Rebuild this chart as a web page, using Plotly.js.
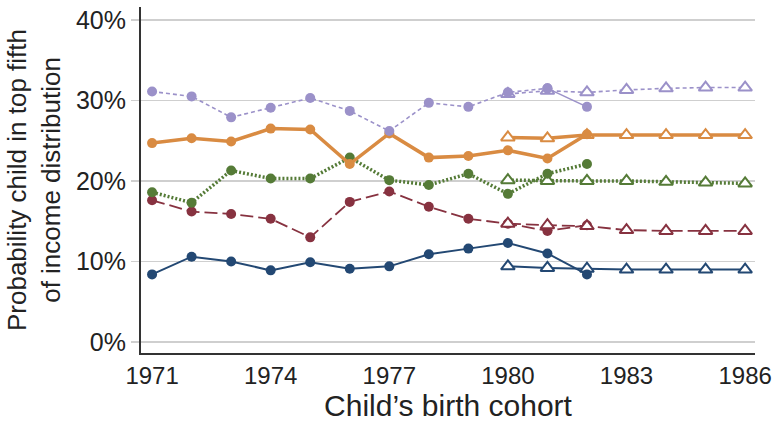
<!DOCTYPE html>
<html>
<head>
<meta charset="utf-8">
<script src="https://cdn.plot.ly/plotly-3.0.1.min.js"></script>
<style>html,body{margin:0;padding:0;background:#fff;}#chart{width:774px;height:422px;}</style>
</head>
<body>
<div id="chart"></div>
<script>
// Birth cohorts
const yearsCircle = [1971,1972,1973,1974,1975,1976,1977,1978,1979,1980,1981,1982];
const yearsTriangle = [1980,1981,1982,1983,1984,1985,1986];

// Series values (percent), circle series
const purpleCircle = [31.1,30.5,27.9,29.1,30.3,28.7,26.2,29.7,29.2,31.0,31.5,29.2];
const orangeCircle = [24.7,25.3,24.9,26.5,26.4,22.1,25.9,22.9,23.1,23.8,22.8,25.8];
const greenCircle  = [18.6,17.3,21.3,20.3,20.3,22.9,20.1,19.5,20.9,18.4,20.9,22.1];
const redCircle    = [17.6,16.2,15.9,15.3,13.0,17.4,18.7,16.8,15.3,14.7,13.8,14.5];
const blueCircle   = [8.4,10.6,10.0,8.9,9.9,9.1,9.4,10.9,11.6,12.3,11.0,8.4];

// Series values (percent), triangle series
const purpleTri = [30.8,31.2,31.0,31.3,31.5,31.6,31.6];
const orangeTri = [25.4,25.3,25.7,25.7,25.7,25.7,25.7];
const greenTri  = [20.1,20.0,20.0,20.0,19.9,19.8,19.7];
const redTri    = [14.7,14.5,14.4,13.9,13.8,13.8,13.8];
const blueTri   = [9.4,9.2,9.1,9.0,9.0,9.0,9.0];

// Tick labels
const xTicks = [1971,1974,1977,1980,1983,1986];
const yTicks = [0,10,20,30,40];
const yTickText = ['0%','10%','20%','30%','40%'];

const C = {purple:'#9b91c9', orange:'#d98b42', green:'#557b37', red:'#873240', blue:'#234873'};

function tri(y, color, width, dash) {
  return {x: yearsTriangle, y: y, type:'scatter', mode:'lines+markers',
    line:{color:color, width:width, dash:dash},
    marker:{symbol:'triangle-up', size:12, color:'#ffffff', line:{color:color, width:2}},
    hoverinfo:'x+y'};
}
function circ(x, y, color, width, dash) {
  return {x: x, y: y, type:'scatter', mode:'lines+markers',
    line:{color:color, width:width, dash:dash},
    marker:{symbol:'circle', size:10, color:color},
    hoverinfo:'x+y'};
}

const n = yearsCircle.length;
const traces = [
  circ(yearsCircle, redCircle, C.red, 1.8, '13px,5px'),
  tri(greenTri, C.green, 3.5, '2px,2px'),
  tri(orangeTri, C.orange, 3.5, 'solid'),
  tri(redTri, C.red, 1.8, '13px,5px'),
  tri(blueTri, C.blue, 2, 'solid'),
  tri(purpleTri, C.purple, 1.6, '4px,3px'),
  circ(yearsCircle, greenCircle, C.green, 3.5, '2px,2px'),
  circ(yearsCircle, orangeCircle, C.orange, 3.5, 'solid'),
  circ(yearsCircle, blueCircle, C.blue, 2, 'solid'),
  circ(yearsCircle.slice(0, n-1), purpleCircle.slice(0, n-1), C.purple, 1.6, '4px,3px'),
  circ(yearsCircle.slice(n-2), purpleCircle.slice(n-2), C.purple, 1.6, 'solid')
];

const layout = {
  width:774, height:422,
  margin:{l:141, r:19, t:7, b:69},
  paper_bgcolor:'#ffffff', plot_bgcolor:'#ffffff',
  showlegend:false,
  font:{family:'"Liberation Sans", Arial, sans-serif', color:'#222222'},
  xaxis:{
    range:[1970.72, 1986.25], tickvals:xTicks, ticktext:xTicks.map(String),
    showgrid:false, zeroline:false, showline:true, linecolor:'#333333', linewidth:2,
    ticks:'', tickfont:{size:24, color:'#222222'},
    title:{text:'Child’s birth cohort', font:{size:30, color:'#222222'}, standoff:8}
  },
  yaxis:{
    range:[-1.36, 41.6], tickvals:yTicks, ticktext:yTickText,
    showgrid:true, gridcolor:'#cfcfcf', gridwidth:1.5,
    zeroline:false, showline:true, linecolor:'#333333', linewidth:2,
    ticks:'outside', ticklen:8, tickcolor:'#cfcfcf', tickwidth:1.5,
    tickfont:{size:25, color:'#222222'},
    title:{text:'Probability child in top fifth<br>of income distribution', font:{size:26, color:'#222222'}, standoff:8}
  }
};

Plotly.newPlot('chart', traces, layout, {displayModeBar:false, staticPlot:true});
</script>
</body>
</html>
